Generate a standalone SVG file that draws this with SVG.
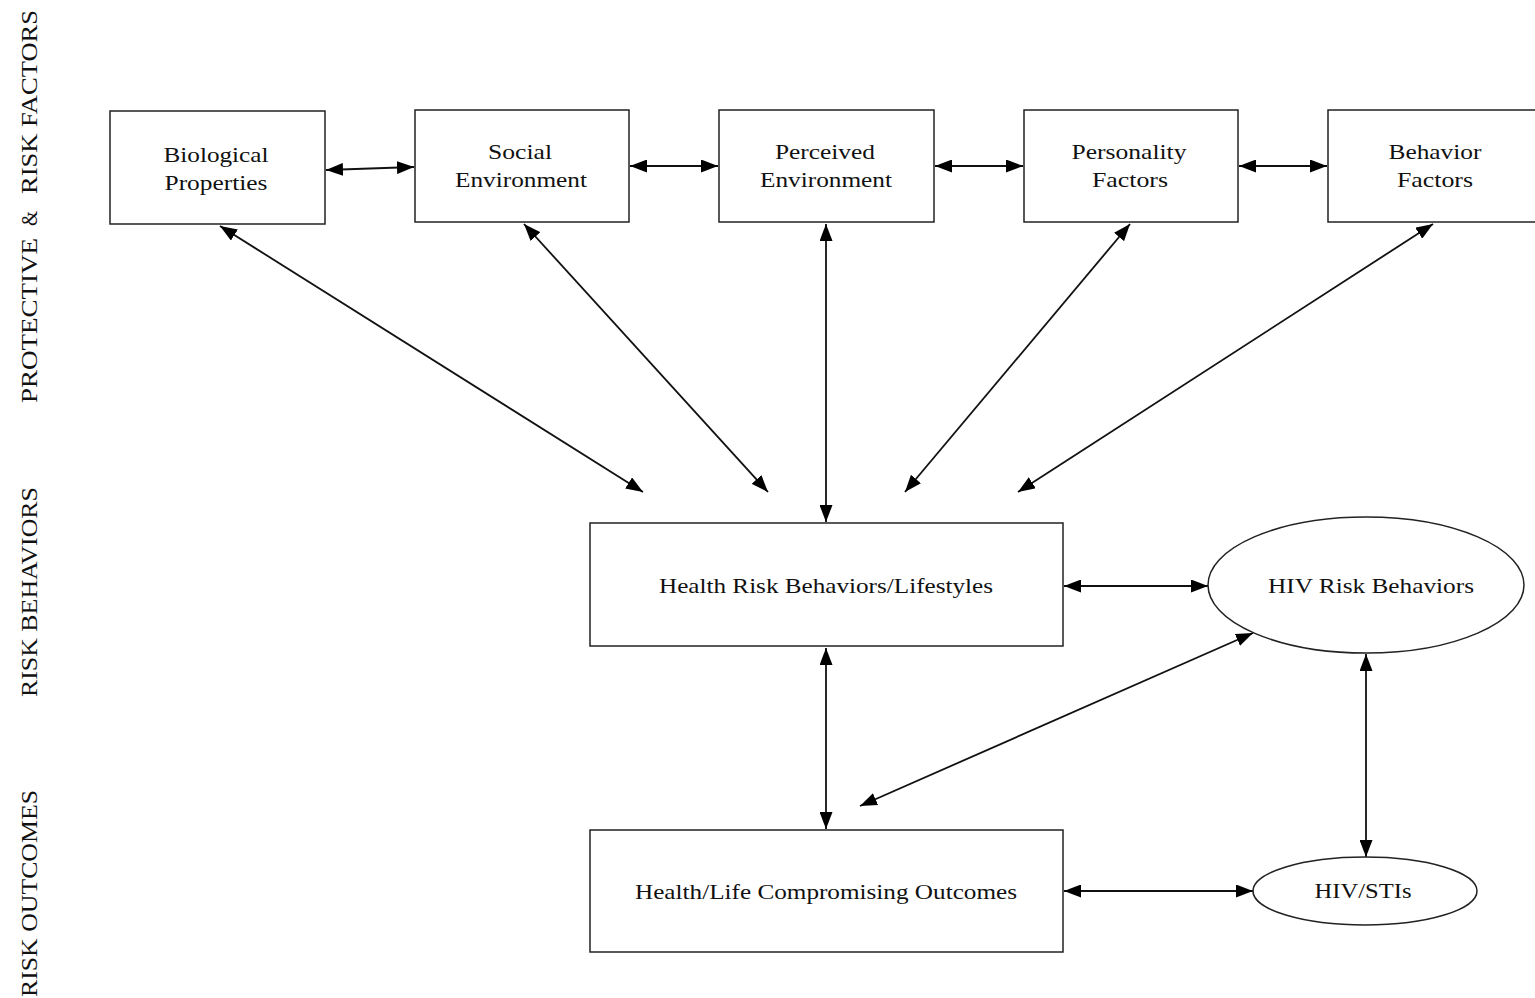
<svg xmlns="http://www.w3.org/2000/svg" width="1535" height="998" viewBox="0 0 1535 998">
<defs>
<marker id="ah" viewBox="0 0 17 13" refX="17" refY="6.5" markerWidth="17" markerHeight="13" markerUnits="userSpaceOnUse" orient="auto-start-reverse">
<path d="M0,0 L17,6.5 L0,13 Z" fill="#000"/>
</marker>
<style>
.box{fill:#fff;stroke:#222;stroke-width:1.5}
.t{font-family:"Liberation Serif","Times New Roman",serif;font-size:21px;fill:#111;text-anchor:middle}
.side{font-family:"Liberation Serif","Times New Roman",serif;font-size:23px;fill:#111}
.c{fill:none;stroke:#111;stroke-width:1.8;marker-start:url(#ah);marker-end:url(#ah)}
</style>
</defs>
<rect width="1535" height="998" fill="#fff"/>
<g id="side-labels">
<text class="side" transform="translate(37,403) rotate(-90)" textLength="165" lengthAdjust="spacingAndGlyphs">PROTECTIVE</text>
<text class="side" transform="translate(37,226) rotate(-90)" textLength="15" lengthAdjust="spacingAndGlyphs">&amp;</text>
<text class="side" transform="translate(37,194) rotate(-90)" textLength="184" lengthAdjust="spacingAndGlyphs">RISK FACTORS</text>
<text class="side" transform="translate(37,697) rotate(-90)" textLength="210" lengthAdjust="spacingAndGlyphs">RISK BEHAVIORS</text>
<text class="side" transform="translate(37,997) rotate(-90)" textLength="207" lengthAdjust="spacingAndGlyphs">RISK OUTCOMES</text>
</g>
<g id="connectors">
<line class="c" x1="326" y1="170" x2="414" y2="167"/>
<line class="c" x1="630" y1="166" x2="718" y2="166"/>
<line class="c" x1="935" y1="166" x2="1023" y2="166"/>
<line class="c" x1="1239" y1="166" x2="1327" y2="166"/>
<line class="c" x1="220" y1="226" x2="643" y2="492"/>
<line class="c" x1="524" y1="224" x2="768" y2="492"/>
<line class="c" x1="826" y1="224" x2="826" y2="522"/>
<line class="c" x1="1130" y1="224" x2="905" y2="492"/>
<line class="c" x1="1433" y1="224" x2="1018" y2="492"/>
<line class="c" x1="1064" y1="586" x2="1208" y2="586"/>
<line class="c" x1="1253" y1="633" x2="860" y2="806"/>
<line class="c" x1="826" y1="648" x2="826" y2="829"/>
<line class="c" x1="1366" y1="654" x2="1366" y2="857"/>
<line class="c" x1="1064" y1="891" x2="1253" y2="891"/>
</g>
<g id="biological">
<rect class="box" x="110" y="111" width="215" height="113"/>
<text class="t" x="216" y="162" textLength="105" lengthAdjust="spacingAndGlyphs">Biological</text>
<text class="t" x="216" y="190" textLength="103" lengthAdjust="spacingAndGlyphs">Properties</text>
</g>
<g id="social">
<rect class="box" x="415" y="110" width="214" height="112"/>
<text class="t" x="520" y="159" textLength="64" lengthAdjust="spacingAndGlyphs">Social</text>
<text class="t" x="521" y="187" textLength="132" lengthAdjust="spacingAndGlyphs">Environment</text>
</g>
<g id="perceived">
<rect class="box" x="719" y="110" width="215" height="112"/>
<text class="t" x="825" y="159" textLength="100" lengthAdjust="spacingAndGlyphs">Perceived</text>
<text class="t" x="826" y="187" textLength="132" lengthAdjust="spacingAndGlyphs">Environment</text>
</g>
<g id="personality">
<rect class="box" x="1024" y="110" width="214" height="112"/>
<text class="t" x="1129" y="159" textLength="115" lengthAdjust="spacingAndGlyphs">Personality</text>
<text class="t" x="1130" y="187" textLength="76" lengthAdjust="spacingAndGlyphs">Factors</text>
</g>
<g id="behavior">
<rect class="box" x="1328" y="110" width="212" height="112"/>
<text class="t" x="1435" y="159" textLength="93" lengthAdjust="spacingAndGlyphs">Behavior</text>
<text class="t" x="1435" y="187" textLength="76" lengthAdjust="spacingAndGlyphs">Factors</text>
</g>
<g id="health-risk">
<rect class="box" x="590" y="523" width="473" height="123"/>
<text class="t" x="826" y="593" textLength="334" lengthAdjust="spacingAndGlyphs">Health Risk Behaviors/Lifestyles</text>
</g>
<g id="hiv-risk">
<ellipse class="box" cx="1366" cy="585" rx="158" ry="68"/>
<text class="t" x="1371" y="593" textLength="206" lengthAdjust="spacingAndGlyphs">HIV Risk Behaviors</text>
</g>
<g id="health-life">
<rect class="box" x="590" y="830" width="473" height="122"/>
<text class="t" x="826" y="899" textLength="382" lengthAdjust="spacingAndGlyphs">Health/Life Compromising Outcomes</text>
</g>
<g id="hiv-stis">
<ellipse class="box" cx="1365" cy="891" rx="112" ry="34"/>
<text class="t" x="1363" y="898" textLength="97" lengthAdjust="spacingAndGlyphs">HIV/STIs</text>
</g>
</svg>
